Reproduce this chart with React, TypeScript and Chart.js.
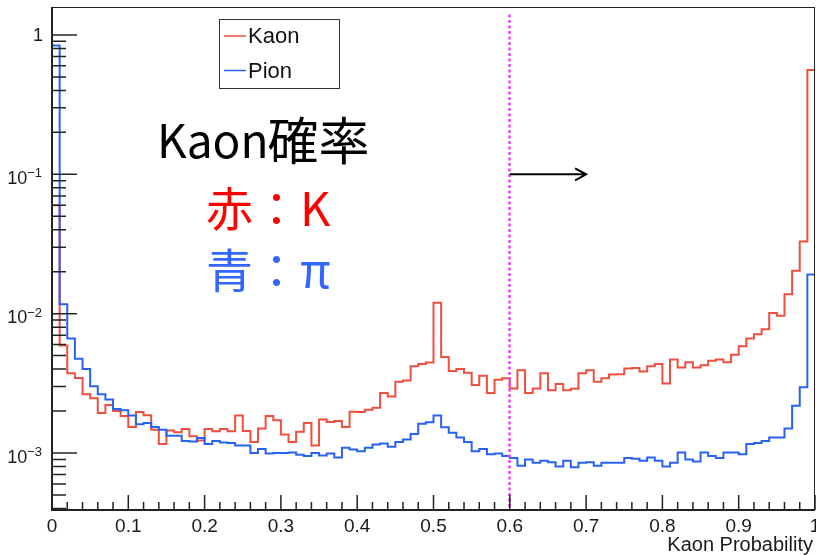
import { useEffect, useRef } from 'react';
import { Chart, registerables } from 'chart.js';

Chart.register(...registerables);

// ---- data ----
const X_MIN = 0;
const X_MAX = 1;
const Y_MIN = 3.9e-4;
const Y_MAX = 1.587;

const seriesLabels = ['Kaon', 'Pion'];

const kaon = [
  0.06, 0.0059, 0.00373, 0.00346, 0.00264, 0.00247, 0.00194, 0.00221, 0.002, 0.00184,
  0.00154, 0.00197, 0.00187, 0.00147, 0.00116, 0.00145, 0.00141, 0.00149, 0.00132, 0.00123,
  0.00149, 0.00143, 0.00149, 0.00143, 0.00186, 0.00144, 0.0012, 0.0015, 0.00184, 0.00172,
  0.00136, 0.0012, 0.00142, 0.00164, 0.00113, 0.00174, 0.00167, 0.0017, 0.00154, 0.00198,
  0.00197, 0.00204, 0.00211, 0.0027, 0.00254, 0.00324, 0.00331, 0.00419, 0.00435, 0.00447,
  0.012, 0.00489, 0.00388, 0.00401, 0.00376, 0.00308, 0.00359, 0.0027, 0.00336, 0.00344,
  0.0029, 0.00392, 0.0027, 0.0029, 0.00373, 0.00282, 0.00313, 0.00282, 0.00289, 0.00373,
  0.00392, 0.00324, 0.00344, 0.00366, 0.00368, 0.00404, 0.00407, 0.00384, 0.00419, 0.00435,
  0.00315, 0.00468, 0.0041, 0.00448, 0.0041, 0.00426, 0.0046, 0.00468, 0.00448, 0.00508,
  0.00583, 0.00662, 0.00711, 0.00773, 0.0101, 0.00968, 0.0138, 0.0203, 0.033, 0.56,
];

const pion = [
  0.84, 0.0117, 0.00662, 0.00475, 0.00401, 0.00301, 0.00264, 0.00242, 0.00207, 0.00203,
  0.00186, 0.00161, 0.00164, 0.00154, 0.00147, 0.00133, 0.00133, 0.00122, 0.00121, 0.00128,
  0.00116, 0.00122, 0.00119, 0.00118, 0.00113, 0.00113, 0.001, 0.00107, 0.00099, 0.001,
  0.001, 0.00101, 0.00097, 0.00095, 0.001, 0.00096, 0.00099, 0.00093, 0.00109, 0.00106,
  0.00103, 0.00109, 0.00115, 0.00117, 0.00111, 0.0012, 0.00125, 0.00137, 0.00162, 0.00166,
  0.00186, 0.00153, 0.0014, 0.00129, 0.0012, 0.00103, 0.00107, 0.00098, 0.00099, 0.00095,
  0.00092, 0.00081, 0.0009, 0.00085, 0.00088, 0.00086, 0.0008, 0.00088, 0.00079, 0.00085,
  0.00086, 0.00081, 0.00085, 0.00085, 0.00085, 0.00092, 0.00091, 0.00088, 0.00093, 0.00088,
  0.0008, 0.00085, 0.00101, 0.0009, 0.00087, 0.00101, 0.00095, 0.00092, 0.00101, 0.00101,
  0.00098, 0.00116, 0.00118, 0.00122, 0.00129, 0.00129, 0.0015, 0.00218, 0.00296, 0.0191,
];

const xMajorTicks = [0, 0.1, 0.2, 0.3, 0.4, 0.5, 0.6, 0.7, 0.8, 0.9, 1];
const xTickLabels = ['0', '0.1', '0.2', '0.3', '0.4', '0.5', '0.6', '0.7', '0.8', '0.9', '1'];
const xMinorStep = 0.02;
const yMajorTicks = [1e-3, 1e-2, 1e-1, 1];
const yTickBase = ['10', '10', '10', ''];
const yTickExp = ['\u22123', '\u22122', '\u22121', ''];
const yTickPlain = ['', '', '', '1'];
const xTitle = 'Kaon Probability';

const cutX = 0.6;
const cutTop = 1.4;
const arrowFrom = 0.6;
const arrowTo = 0.7;
const arrowY = 0.1;

const noteTitleLatin = 'Kaon';
const noteTitleCJK = '確率';
const noteLines = ['赤：K', '青：π'];

const RED = '#ee4f3e';
const BLUE = '#2862f4';

function histPoints(vals: number[]) {
  const n = vals.length;
  const w = (X_MAX - X_MIN) / n;
  const pts = vals.map((v, i) => ({ x: X_MIN + i * w, y: v }));
  pts.push({ x: X_MAX, y: vals[n - 1] });
  return pts;
}

const decorPlugin = {
  id: 'rootDecor',
  afterDraw(chart: any) {
    const { ctx, chartArea, scales } = chart;
    const xs = scales.x;
    const ys = scales.y;
    const { left, right, top, bottom } = chartArea;
    ctx.save();

    // dotted cut line
    const cx = Math.round(xs.getPixelForValue(cutX)) - 0.5;
    ctx.strokeStyle = '#ee44f6';
    ctx.lineWidth = 2.5;
    ctx.setLineDash([3, 2.5]);
    ctx.beginPath();
    ctx.moveTo(cx, ys.getPixelForValue(cutTop));
    ctx.lineTo(cx, bottom);
    ctx.stroke();
    ctx.setLineDash([]);

    // arrow
    const ax0 = xs.getPixelForValue(arrowFrom);
    const ax1 = xs.getPixelForValue(arrowTo);
    const ay = ys.getPixelForValue(arrowY);
    ctx.strokeStyle = '#000';
    ctx.lineWidth = 2;
    ctx.beginPath();
    ctx.moveTo(ax0, ay);
    ctx.lineTo(ax1, ay);
    ctx.moveTo(ax1 - 11, ay - 6);
    ctx.lineTo(ax1, ay);
    ctx.lineTo(ax1 - 11, ay + 6);
    ctx.stroke();

    // frame
    ctx.strokeStyle = '#222';
    ctx.lineWidth = 1;
    ctx.strokeRect(left + 0.5, top + 0.5, right - left - 1, bottom - top);
    ctx.lineWidth = 2;
    ctx.beginPath();
    ctx.moveTo(left, top);
    ctx.lineTo(left, bottom);
    ctx.lineTo(right, bottom);
    ctx.stroke();

    // x ticks
    ctx.lineWidth = 1.5;
    ctx.beginPath();
    const nMinor = Math.round((X_MAX - X_MIN) / xMinorStep);
    for (let i = 0; i <= nMinor; i++) {
      const v = X_MIN + i * xMinorStep;
      const px = xs.getPixelForValue(v);
      const isMajor = i % 5 === 0;
      ctx.moveTo(px, bottom);
      ctx.lineTo(px, bottom - (isMajor ? 15 : 8));
    }
    ctx.stroke();

    // y ticks (log)
    ctx.beginPath();
    const eMin = Math.floor(Math.log10(Y_MIN));
    const eMax = Math.ceil(Math.log10(Y_MAX));
    for (let e = eMin; e <= eMax; e++) {
      for (let k = 1; k <= 9; k++) {
        const v = k * Math.pow(10, e);
        if (v < Y_MIN || v > Y_MAX) continue;
        const py = ys.getPixelForValue(v);
        ctx.moveTo(left, py);
        ctx.lineTo(left + (k === 1 ? 25 : 14), py);
      }
    }
    ctx.stroke();

    // x labels
    ctx.fillStyle = '#1a1a1a';
    ctx.font = '19px "Liberation Sans", Arial, sans-serif';
    ctx.textAlign = 'center';
    ctx.textBaseline = 'alphabetic';
    xMajorTicks.forEach((v, i) => {
      ctx.fillText(xTickLabels[i], xs.getPixelForValue(v), bottom + 22);
    });

    // x title
    ctx.textAlign = 'right';
    ctx.font = '20px "Liberation Sans", Arial, sans-serif';
    ctx.fillText(xTitle, right - 2, bottom + 41);

    // y labels
    yMajorTicks.forEach((v, i) => {
      const py = ys.getPixelForValue(v);
      const rx = 42;
      if (yTickPlain[i]) {
        ctx.font = '18px "Liberation Sans", Arial, sans-serif';
        ctx.textAlign = 'right';
        ctx.textBaseline = 'middle';
        ctx.fillText(yTickPlain[i], rx + 1, py + 1);
        ctx.textBaseline = 'alphabetic';
        return;
      }
      ctx.font = '13px "Liberation Sans", Arial, sans-serif';
      ctx.textAlign = 'right';
      ctx.fillText(yTickExp[i], rx, py + 3);
      const ew = ctx.measureText(yTickExp[i]).width;
      ctx.font = '18px "Liberation Sans", Arial, sans-serif';
      ctx.fillText(yTickBase[i], rx - ew, py + 9.5);
    });

    // legend
    const lx = 219, ly = 19, lw = 120, lh = 69;
    ctx.fillStyle = '#fff';
    ctx.fillRect(lx, ly, lw, lh);
    ctx.strokeStyle = '#333';
    ctx.lineWidth = 1;
    ctx.strokeRect(lx + 0.5, ly + 0.5, lw, lh);
    chart.data.datasets.forEach((ds: any, i: number) => {
      const yy = 36 + i * 34.5;
      ctx.strokeStyle = ds.borderColor;
      ctx.lineWidth = 1.5;
      ctx.beginPath();
      ctx.moveTo(224, yy);
      ctx.lineTo(246, yy);
      ctx.stroke();
      ctx.fillStyle = '#111';
      ctx.font = '22px "Liberation Sans", Arial, sans-serif';
      ctx.textAlign = 'left';
      ctx.textBaseline = 'middle';
      ctx.fillText(ds.label, 248, yy + 1);
    });

    // annotation text
    ctx.textBaseline = 'alphabetic';
    ctx.textAlign = 'left';
    ctx.fillStyle = '#000';
    ctx.font = '46px "Noto Sans CJK JP", sans-serif';
    ctx.fillText(noteTitleLatin, 157, 158);
    const lw1 = ctx.measureText(noteTitleLatin).width;
    ctx.font = '51px "Noto Sans CJK JP", sans-serif';
    ctx.fillText(noteTitleCJK, 157 + lw1 - 1, 160);
    ctx.font = '47px "Noto Sans CJK JP", sans-serif';
    ctx.fillStyle = '#ff0000';
    ctx.fillText(noteLines[0], 206, 226);
    ctx.fillStyle = '#3366ff';
    ctx.fillText(noteLines[1], 206, 288);

    ctx.restore();
  },
};

export default function App() {
  const ref = useRef<HTMLCanvasElement | null>(null);
  useEffect(() => {
    if (!ref.current) return;
    const chart = new Chart(ref.current, {
      type: 'line',
      data: {
        datasets: [
          {
            label: seriesLabels[0],
            data: histPoints(kaon),
            borderColor: RED,
            borderWidth: 2,
            stepped: 'before',
            pointRadius: 0,
            fill: false,
            order: 2,
          },
          {
            label: seriesLabels[1],
            data: histPoints(pion),
            borderColor: BLUE,
            borderWidth: 2,
            stepped: 'before',
            pointRadius: 0,
            fill: false,
            order: 1,
          },
        ],
      } as any,
      options: {
        animation: false,
        responsive: false,
        events: [],
        layout: { padding: { left: 52, right: 1, top: 7, bottom: 45 } },
        plugins: { legend: { display: false }, tooltip: { enabled: false } },
        scales: {
          x: { type: 'linear', min: X_MIN, max: X_MAX, display: false },
          y: { type: 'logarithmic', min: Y_MIN, max: Y_MAX, display: false },
        },
      } as any,
      plugins: [decorPlugin],
    });
    return () => chart.destroy();
  }, []);
  return (
    <div style={{ position: 'absolute', left: 0, top: 0, width: 816, height: 555, background: '#fff' }}>
      <canvas ref={ref} width={816} height={555} />
    </div>
  );
}
